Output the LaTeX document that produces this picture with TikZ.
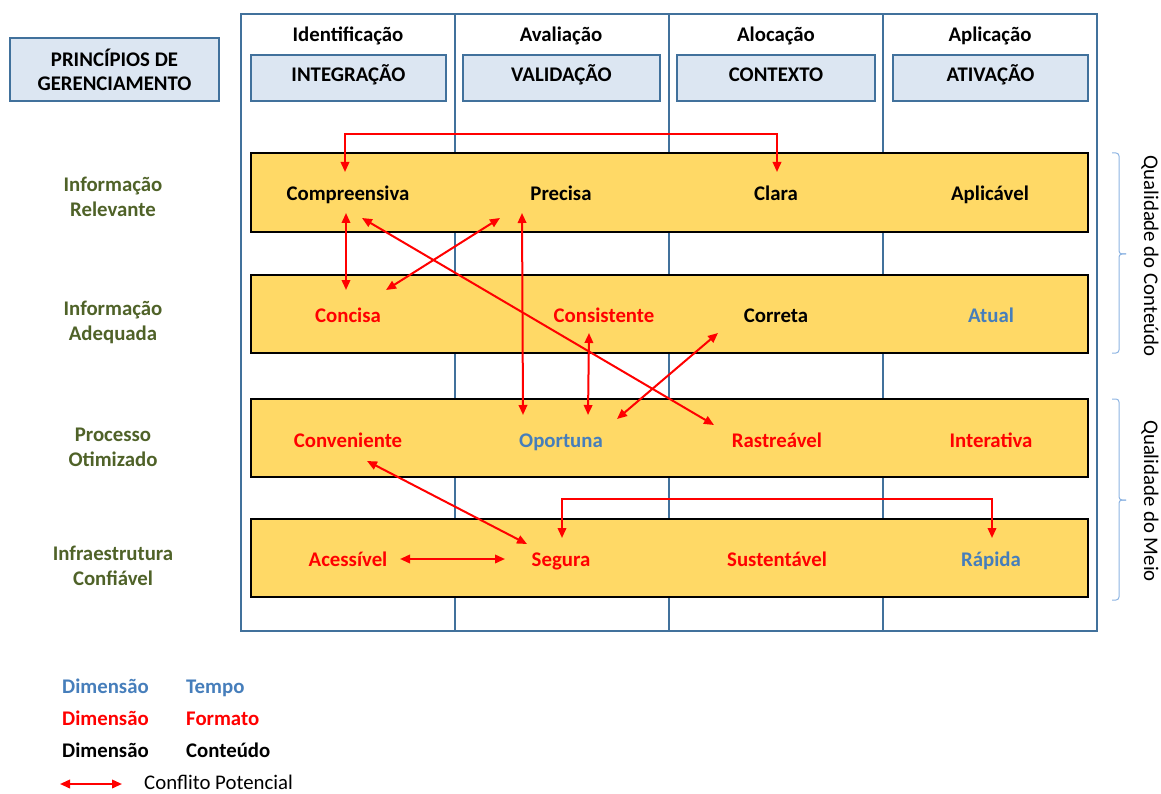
\documentclass[tikz,border=0pt]{standalone}
\usepackage{fontspec}
\setmainfont{Carlito}
\usetikzlibrary{arrows.meta,calc}
\definecolor{frameblue}{RGB}{65,113,156}
\definecolor{hdrfill}{RGB}{220,230,242}
\definecolor{barfill}{RGB}{255,217,102}
\definecolor{txtblue}{RGB}{70,126,187}
\definecolor{txtgreen}{RGB}{79,98,40}
\definecolor{bracecol}{RGB}{141,180,226}
\tikzset{
  lbl/.style={font=\fontsize{20.8}{24}\selectfont\bfseries, inner sep=1pt, text height=20pt, text depth=4pt},
  cblk/.style={lbl, text=black},
  cred/.style={lbl, text=red},
  cblu/.style={lbl, text=txtblue},
  side/.style={text=txtgreen, align=center, inner sep=1pt, font=\fontsize{20.8}{25}\selectfont\bfseries},
  hdrbox/.style={draw=frameblue, fill=hdrfill, line width=1.5pt, font=\fontsize{20.8}{24}\selectfont\bfseries, align=center, inner sep=0pt},
  hdrtxt/.style={text height=18pt, text depth=10pt},
  bar/.style={draw=black, fill=barfill, line width=2pt, inner sep=0pt},
  conflict/.style={draw=red, line width=2pt, {Triangle[length=10pt,width=8.5pt]}-{Triangle[length=10pt,width=8.5pt]}},
  bracepath/.style={draw=bracecol, line width=1pt, rounded corners=3pt},
  rot/.style={font=\fontsize{20.8}{24}\selectfont, rotate=-90, inner sep=0pt}
}
\begin{document}
\begin{tikzpicture}[x=1pt,y=-1pt]
\useasboundingbox (0,0) rectangle (1161,794);
% frame and columns
\draw[frameblue, line width=1.5pt] (241,14) rectangle (1097,631);
\foreach \xx in {455,669,883} \draw[frameblue, line width=1.5pt] (\xx,14) -- (\xx,631);
% headings
\node[cblk] (h1) at (348,34) {Identificação};
\node[cblk] (h2) at (561,34) {Avaliação};
\node[cblk] (h3) at (776,34) {Alocação};
\node[cblk] (h4) at (990,34) {Aplicação};
\node[hdrbox, minimum width=209pt, minimum height=63pt] (pg) at (114.5,69.5) {PRINCÍPIOS DE\\GERENCIAMENTO};
\node[hdrbox, hdrtxt, minimum width=195pt, minimum height=46pt] (b1) at (348.5,78) {INTEGRAÇÃO};
\node[hdrbox, hdrtxt, minimum width=197pt, minimum height=46pt] (b2) at (561.5,78) {VALIDAÇÃO};
\node[hdrbox, hdrtxt, minimum width=198pt, minimum height=46pt] (b3) at (776,78) {CONTEXTO};
\node[hdrbox, hdrtxt, minimum width=195pt, minimum height=46pt] (b4) at (990.5,78) {ATIVAÇÃO};
% bars
\node[bar, minimum width=837pt, minimum height=79pt] (r1) at (669.5,192.5) {};
\node[bar, minimum width=837pt, minimum height=78pt] (r2) at (669.5,314) {};
\node[bar, minimum width=837pt, minimum height=78pt] (r3) at (669.5,438) {};
\node[bar, minimum width=837pt, minimum height=78pt] (r4) at (669.5,558) {};
% side labels
\node[side] (s1) at (113,197) {Informação\\Relevante};
\node[side] (s2) at (113,322) {Informação\\Adequada};
\node[side] (s3) at (113,447) {Processo\\Otimizado};
\node[side] (s4) at (113,566) {Infraestrutura\\Confiável};
% row items
\node[cblk] (compr) at (348,193) {Compreensiva};
\node[cblk] (precisa) at (561,193) {Precisa};
\node[cblk] (clara) at (776,193) {Clara};
\node[cblk] (aplic) at (990,193) {Aplicável};
\node[cred] (concisa) at (348,314) {Concisa};
\node[cred] (consist) at (604,314) {Consistente};
\node[cblk] (correta) at (776,314) {Correta};
\node[cblu] (atual) at (991,314) {Atual};
\node[cred] (conv) at (348,439) {Conveniente};
\node[cblu] (oport) at (561,439) {Oportuna};
\node[cred] (rastr) at (777,439) {Rastreável};
\node[cred] (inter) at (991,439) {Interativa};
\node[cred] (acess) at (348,558) {Acessível};
\node[cred] (segura) at (561,558) {Segura};
\node[cred] (sust) at (777,558) {Sustentável};
\node[cblu] (rapida) at (991,558) {Rápida};
% conflicts
\draw[conflict] ($(compr)+(-3,-21)$) -- ++(0,-38) -| ($(clara)+(1,-21)$);
\draw[conflict] ($(compr)+(-2,20)$) -- ($(concisa)+(-2,-24)$);
\draw[conflict] ($(precisa)+(-61,25)$) -- ($(concisa)+(38,-24)$);
\draw[conflict] ($(compr)+(14,25)$) -- ($(rastr)+(-63,-14)$);
\draw[conflict] ($(precisa)+(-39,20)$) -- ($(oport)+(-38,-24)$);
\draw[conflict] ($(consist)+(-15,19)$) -- ($(oport)+(27,-24)$);
\draw[conflict] ($(correta)+(-58,19)$) -- ($(oport)+(56,-20)$);
\draw[conflict] ($(conv)+(19,22)$) -- ($(segura)+(-34,-14)$);
\draw[conflict] ($(acess)+(52,1)$) -- ($(segura)+(-56,1)$);
\draw[conflict] ($(segura)+(1,-20)$) -- ++(0,-39) -| ($(rapida)+(1,-20)$);
% braces
\draw[bracepath] (1112,153) -- (1119,153) -- (1119,254) -- (1126,254);
\draw[bracepath] (1126,254) -- (1119,254) -- (1119,353) -- (1112,353);
\draw[bracepath] (1112,399) -- (1119,399) -- (1119,500) -- (1126,500);
\draw[bracepath] (1126,500) -- (1119,500) -- (1119,600) -- (1112,600);
\node[rot] (q1) at (1150,256) {Qualidade do Conteúdo};
\node[rot] (q2) at (1150,501) {Qualidade do Meio};
% legend
\node[cblu, anchor=west] (l1a) at (61,685) {Dimensão};
\node[cblu, anchor=west] (l1b) at (185,685) {Tempo};
\node[cred, anchor=west] (l2a) at (61,717) {Dimensão};
\node[cred, anchor=west] (l2b) at (185,717) {Formato};
\node[cblk, anchor=west] (l3a) at (61,749) {Dimensão};
\node[cblk, anchor=west] (l3b) at (185,749) {Conteúdo};
\coordinate (legL) at (60,784);
\coordinate (legR) at (122,784);
\draw[conflict] (legL) -- (legR);
\node[anchor=west, font=\fontsize{20.8}{24}\selectfont, inner sep=0pt, text height=16pt, text depth=0pt] (lc) at (144,781) {Conflito Potencial};
\end{tikzpicture}
\end{document}
